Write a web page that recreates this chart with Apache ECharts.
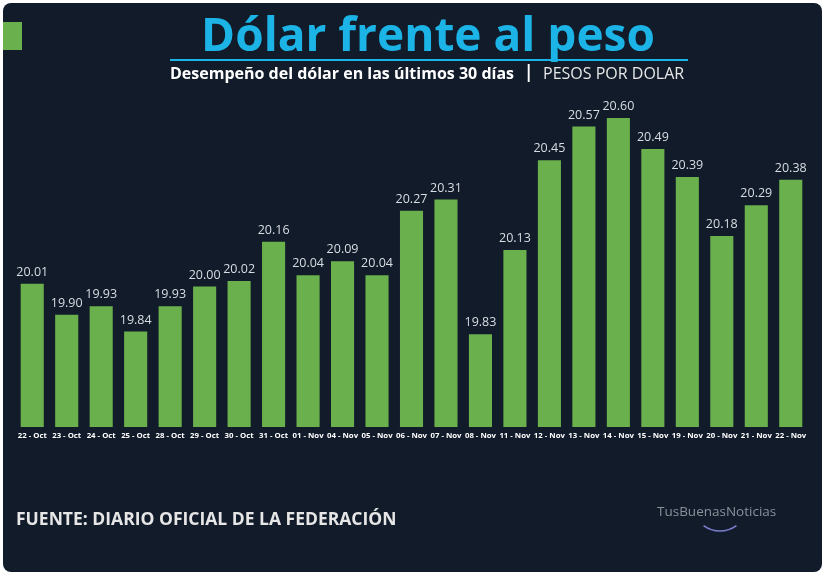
<!DOCTYPE html>
<html><head><meta charset="utf-8">
<script src="https://cdn.jsdelivr.net/npm/echarts@6/dist/echarts.min.js"></script>
<style>
html,body{margin:0;padding:0;background:#fff;}
#c{width:825px;height:576px;}
</style></head>
<body><div id="c"></div>
<script>
const categories = ['22 - Oct','23 - Oct','24 - Oct','25 - Oct','28 - Oct','29 - Oct','30 - Oct','31 - Oct','01 - Nov','04 - Nov','05 - Nov','06 - Nov','07 - Nov','08 - Nov','11 - Nov','12 - Nov','13 - Nov','14 - Nov','15 - Nov','19 - Nov','20 - Nov','21 - Nov','22 - Nov'];
const values = [20.01,19.90,19.93,19.84,19.93,20.00,20.02,20.16,20.04,20.09,20.04,20.27,20.31,19.83,20.13,20.45,20.57,20.60,20.49,20.39,20.18,20.29,20.38];
const titleText = 'Dólar frente al peso';
const subtitleText = 'Desempeño del dólar en las últimos 30 días';
const unitText = 'PESOS POR DOLAR';
const sourceText = 'FUENTE: DIARIO OFICIAL DE LA FEDERACIÓN';
const logoText = 'TusBuenasNoticias';

const chart = echarts.init(document.getElementById('c'));
chart.setOption({
  backgroundColor: '#ffffff',
  animation: false,
  graphic: [
    {type:'rect', shape:{x:3,y:3,width:819,height:569,r:8}, style:{fill:'#111b2a'}, z:-10},
    {type:'rect', shape:{x:3,y:22,width:19,height:28}, style:{fill:'#6ab04c'}},
    {type:'text', x:428, y:38, style:{text:titleText, fill:'#1cb4e6', font:'bold 46px "Open Sans"', align:'center', verticalAlign:'middle'}},
    {type:'rect', shape:{x:170,y:59,width:518,height:2}, style:{fill:'#1cb4e6'}},
    {type:'text', x:170, y:74, style:{text:subtitleText, fill:'#ffffff', font:'bold 16px "Open Sans"', verticalAlign:'middle'}},
    {type:'text', x:524, y:73, style:{text:'|', fill:'#ffffff', font:'bold 17px "Open Sans"', verticalAlign:'middle'}},
    {type:'text', x:543, y:74, style:{text:unitText, fill:'#e8e8e8', font:'16px "Open Sans"', verticalAlign:'middle'}},
    {type:'text', x:16, y:520, style:{text:sourceText, fill:'#e6e6e6', font:'bold 17.5px "Open Sans"', verticalAlign:'middle'}},
    {type:'text', x:657, y:512, style:{text:logoText, fill:'#8a909a', font:'13.5px "Open Sans"', verticalAlign:'middle'}},
    {type:'arc', shape:{cx:720,cy:503,r:28,startAngle:Math.PI*0.3,endAngle:Math.PI*0.7}, style:{stroke:'#7a7fd0',lineWidth:1.5,fill:null}}
  ],
  grid: {left:15, right:17, top:90, bottom:149, containLabel:false},
  xAxis: {
    type:'category', data:categories,
    axisLine:{show:false}, axisTick:{show:false},
    axisLabel:{color:'#ffffff', fontSize:7.8, fontWeight:'bold', fontFamily:'"Open Sans"', margin:5, interval:0}
  },
  yAxis: {type:'value', min:19.5, max:20.7, show:false, splitLine:{show:false}},
  series: [{
    type:'bar', data:values, barCategoryGap:'33%',
    itemStyle:{color:'#6ab04c'},
    label:{show:true, position:'top', distance:5, color:'#d8dde3', fontSize:12.5, fontFamily:'"Open Sans"', formatter:p=>p.value.toFixed(2)}
  }]
});
</script></body></html>
